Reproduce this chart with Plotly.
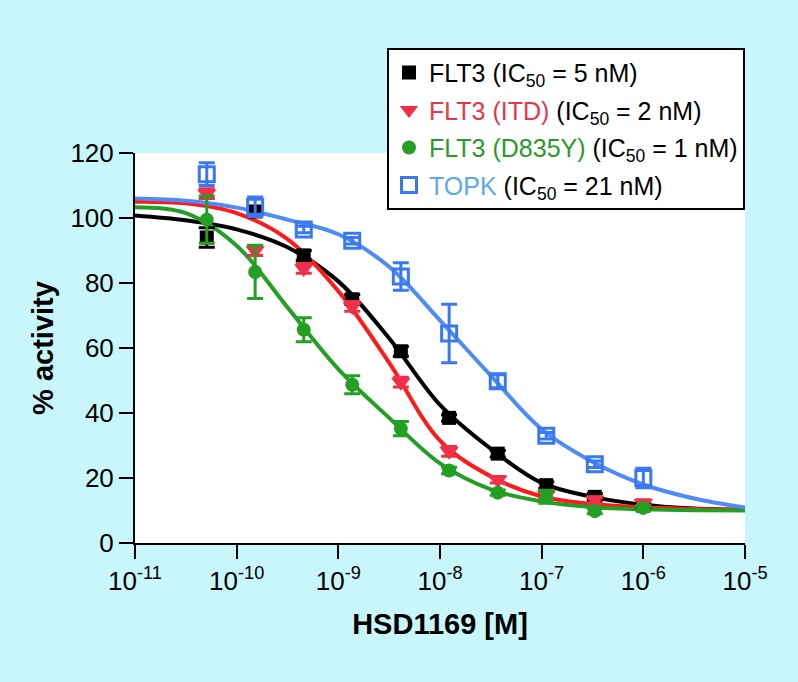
import plotly.graph_objects as go

# ---- data ----
conc = [5.08e-11, 1.52e-10, 4.57e-10, 1.37e-9, 4.12e-9, 1.23e-8, 3.70e-8, 1.11e-7, 3.33e-7, 1.0e-6]

flt3 = [94, 102, 88.5, 75, 59, 38.5, 27.5, 17.8, 14.2, 11.5]
flt3_err = [3, 1.5, 1.5, 1.5, 1.5, 1, 1, 1, 1, 0.5]
itd = [107.5, 90, 84.5, 72.8, 49.5, 28.2, 19.5, 14.8, 13.2, 12.2]
itd_err = [1.5, 1.5, 1.5, 1.5, 1.5, 1.5, 1, 1, 1, 1]
d835y = [99.5, 83.4, 65.6, 48.7, 35.2, 22.3, 15.5, 14.2, 9.8, 10.8]
d835y_err = [7.3, 8.2, 3.7, 2.8, 2.2, 1, 0.8, 2, 0.8, 0.8]
topk = [113.5, 103.5, 96.5, 93, 82, 64.5, 49.8, 33, 24.2, 20]
topk_err = [3.5, 3, 1, 1, 4.2, 9, 2, 1, 1, 3]

# fitted curves, every half decade
fit_x = [1e-11, 3.16e-11, 1e-10, 3.16e-10, 1e-9, 3.16e-9, 1e-8, 3.16e-8, 1e-7, 3.16e-7, 1e-6, 3.16e-6, 1e-5]
flt3_fit = [100.8, 99.3, 96.5, 91, 80.5, 63, 42.5, 29, 18.5, 14.2, 11.8, 10.6, 10.2]
itd_fit = [105, 104.5, 101.5, 93.5, 77.5, 55.5, 31.5, 20.5, 14.3, 12, 11, 10.5, 10.3]
d835y_fit = [103.3, 101.5, 91.5, 72.5, 53.5, 38.5, 24.5, 16.5, 12.8, 11, 10.4, 10.1, 10]
topk_fit = [106, 105.3, 103.2, 99.5, 95, 85, 68.5, 51.5, 35, 25, 18, 13.7, 10.9]

x_tickvals = [1e-11, 1e-10, 1e-9, 1e-8, 1e-7, 1e-6, 1e-5]
x_ticktext = ["10<sup>-11</sup>", "10<sup>-10</sup>", "10<sup>-9</sup>", "10<sup>-8</sup>",
              "10<sup>-7</sup>", "10<sup>-6</sup>", "10<sup>-5</sup>"]
y_tickvals = [0, 20, 40, 60, 80, 100, 120]

names = [
    "FLT3 (IC<sub>50</sub> = 5 nM)",
    "<span style='color:#e8354a'>FLT3 (ITD)</span> (IC<sub>50</sub> = 2 nM)",
    "<span style='color:#2a9a2a'>FLT3 (D835Y)</span> (IC<sub>50</sub> = 1 nM)",
    "<span style='color:#5aaae8'>TOPK</span> (IC<sub>50</sub> = 21 nM)",
]

BG = "#c8f6fb"
FONT = "Liberation Sans, Arial, Helvetica, sans-serif"

fig = go.Figure()

curves = [
    (flt3_fit, "#000000"),
    (itd_fit, "#ff1a1a"),
    (d835y_fit, "#23a023"),
    (topk_fit, "#4d8cf5"),
]
for ys, col in curves:
    fig.add_trace(go.Scatter(x=fit_x, y=ys, mode="lines", line=dict(color=col, width=4, shape="spline"),
                             showlegend=False, hoverinfo="skip"))

points = [
    (flt3, flt3_err, "#000000", "square", 14, None, names[0]),
    (itd, itd_err, "#f0304a", "triangle-down", 17, None, names[1]),
    (d835y, d835y_err, "#23a023", "circle", 14, None, names[2]),
    (topk, topk_err, "#3a78f0", "square-open", 15, 3, names[3]),
]
for i, (ys, es, col, sym, sz, lw, nm) in enumerate(points):
    marker = dict(color=col, symbol=sym, size=sz)
    if lw:
        marker["line"] = dict(color=col, width=lw)
    else:
        marker["line"] = dict(width=0)
    fig.add_trace(go.Scatter(
        x=conc, y=ys, mode="markers", name=nm, marker=marker,
        error_y=dict(type="data", array=es, visible=True, color=col, thickness=3, width=8),
        legendgroup=f"g{i}",
    ))

fig.update_layout(
    width=798, height=682,
    paper_bgcolor=BG, plot_bgcolor="white",
    margin=dict(l=135, r=53, t=153, b=139),
    font=dict(family=FONT, size=25, color="black"),
    legend=dict(
        x=1.0, xanchor="right", y=1.27, yanchor="top",
        bgcolor="white", bordercolor="black", borderwidth=2,
        font=dict(family=FONT, size=25, color="black"),
        tracegroupgap=2, itemwidth=30,
    ),
    xaxis=dict(
        type="log", range=[-11, -5], tickvals=x_tickvals, ticktext=x_ticktext,
        showline=True, linecolor="black", linewidth=2, ticks="outside", ticklen=14,
        tickwidth=2, tickcolor="black", showgrid=False, zeroline=False,
        tickfont=dict(size=26),
        title=dict(text="<b>HSD1169 [M]</b>", font=dict(size=29), standoff=18),
    ),
    yaxis=dict(
        range=[0, 120], tickvals=y_tickvals,
        showline=True, linecolor="black", linewidth=2, ticks="outside", ticklen=14,
        tickwidth=2, tickcolor="black", showgrid=False, zeroline=False,
        tickfont=dict(size=26),
        title=dict(text="<b>% activity</b>", font=dict(size=29), standoff=8),
    ),
)

fig.write_html(
    "out.html",
    config={"displayModeBar": False},
    post_script="document.body.style.margin='0';document.body.style.background='" + BG + "';",
)
